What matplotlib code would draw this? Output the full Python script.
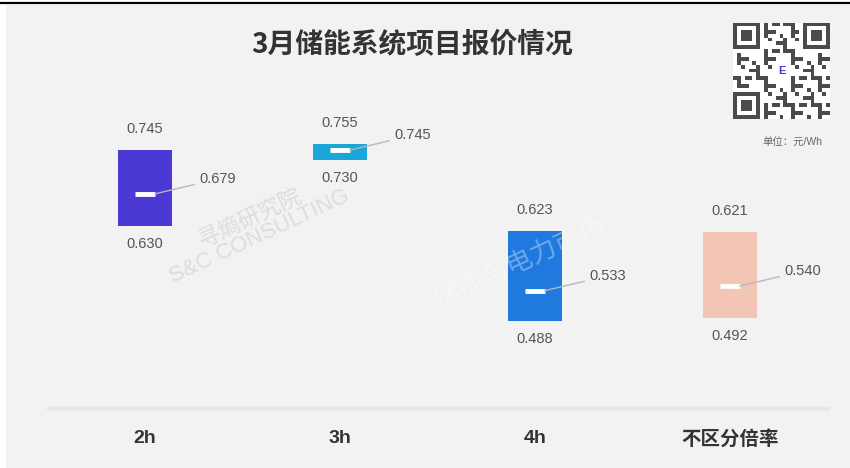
import matplotlib.pyplot as plt
import numpy as np
from matplotlib.patches import Rectangle
from matplotlib.lines import Line2D

plt.rcParams['font.family'] = ['Liberation Sans', 'Noto Sans CJK SC', 'DejaVu Sans']

# 报价数据 (元/Wh)
categories = ['2h', '3h', '4h', '不区分倍率']
price_max = [0.745, 0.755, 0.623, 0.621]
price_min = [0.630, 0.730, 0.488, 0.492]
price_avg = [0.679, 0.745, 0.533, 0.540]
colors = ['#4a39d4', '#1ba6d9', '#1f79de', '#f2c5b5']

W, H = 850, 468
fig = plt.figure(figsize=(W / 100, H / 100), dpi=100)
fig.patch.set_facecolor('white')

# 灰色底板和顶部黑线
fig.patches.append(Rectangle((6 / W, 0), 1, (H - 5) / H, transform=fig.transFigure,
                             facecolor='#f2f2f2', edgecolor='none', zorder=-5))
fig.lines.append(Line2D([0, 1], [(H - 3) / H] * 2, transform=fig.transFigure,
                        color='black', lw=1.6, zorder=-4))

ax = fig.add_axes([47.5 / W, (H - 408) / H, 780 / W, 348 / H])
ax.set_facecolor('none')
x = np.arange(len(categories))
bar_w = 0.277

heights = [a - b for a, b in zip(price_max, price_min)]
ax.bar(x, heights, bottom=price_min, width=bar_w, color=colors, zorder=2)

for i in range(len(categories)):
    ax.plot([x[i] - 0.05, x[i] + 0.05], [price_avg[i]] * 2, color='white',
            lw=3.5, solid_capstyle='butt', zorder=3)
    ax.annotate(f'{price_max[i]:.3f}', (x[i], price_max[i]), xytext=(0, 21),
                textcoords='offset pixels', ha='center', va='center',
                fontsize=10.5, color='#555555')
    ax.annotate(f'{price_min[i]:.3f}', (x[i], price_min[i]), xytext=(0, -18),
                textcoords='offset pixels', ha='center', va='center',
                fontsize=10.5, color='#555555')
    ax.annotate(f'{price_avg[i]:.3f}', (x[i] + 0.05, price_avg[i]), xytext=(45, 15),
                textcoords='offset pixels', ha='left', va='center',
                fontsize=10.5, color='#555555',
                arrowprops=dict(arrowstyle='-', color='#b8b8b8', lw=1,
                                shrinkA=2, shrinkB=0))

ax.set_xlim(-0.5, 3.5)
ax.set_ylim(0.356, 0.881)
ax.set_yticks([])
for s in ['top', 'right', 'left']:
    ax.spines[s].set_visible(False)
ax.spines['bottom'].set_color('#e6e6e6')
ax.spines['bottom'].set_linewidth(2.5)
ax.set_xticks(x)
ax.set_xticklabels(categories, fontsize=14, fontweight='bold', color='#333333')
ax.tick_params(axis='x', length=0, pad=16)
ax.set_xticks([0.5, 1.5, 2.5], minor=True)
ax.tick_params(axis='x', which='minor', length=4, direction='inout', color='#dcdcdc')

# 标题
fig.text(412 / W, 1 - 45 / H, '3月储能系统项目报价情况', ha='center', va='center',
         fontsize=20, fontweight='bold', family='Noto Sans CJK SC', color='#333333')

# 水印
fig.text(255 / W, 1 - 228 / H, '寻熵研究院\nS&C CONSULTING', ha='center', va='center',
         rotation=25, fontsize=16, color='#dcdce2', linespacing=0.9, zorder=1)
fig.text(520 / W, 1 - 262 / H, '储能与电力市场', ha='center', va='center',
         rotation=25, fontsize=19, color='#ffffff', alpha=0.35, zorder=4)

# 二维码
qr = fig.add_axes([733 / W, 1 - 120 / H, 97 / W, 98 / H])
n = 25
ii, jj = np.meshgrid(np.arange(n), np.arange(n), indexing='ij')
grid = ((ii * ii * 3 + jj * 7 + ii * jj * 5 + jj * jj) % 7 < 3).astype(float)
for r0, c0 in [(0, 0), (0, n - 7), (n - 7, 0)]:
    grid[max(r0 - 1, 0):r0 + 8, max(c0 - 1, 0):c0 + 8] = 0
    grid[r0:r0 + 7, c0:c0 + 7] = 1
    grid[r0 + 1:r0 + 6, c0 + 1:c0 + 6] = 0
    grid[r0 + 2:r0 + 5, c0 + 2:c0 + 5] = 1
grid[10:15, 10:15] = 0
qr.imshow(grid, cmap='Greys', vmin=0, vmax=1.3, interpolation='nearest')
qr.text(12, 12, 'E', ha='center', va='center', fontsize=8, fontweight='bold',
        color='#4a39d4')
qr.axis('off')

fig.text(792 / W, 1 - 143 / H, '单位：元/Wh', ha='center', va='center',
         fontsize=7.5, color='#666666')

fig.savefig('out.png', dpi=100)
